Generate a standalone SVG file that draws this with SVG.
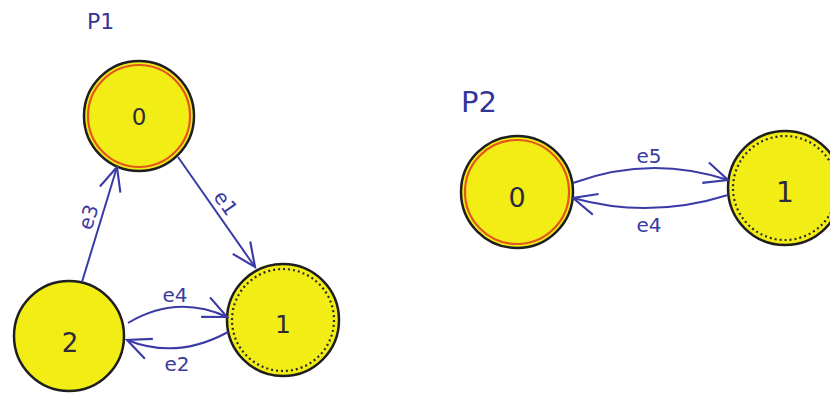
<svg xmlns="http://www.w3.org/2000/svg" width="830" height="393" viewBox="0 0 830 393">
  <style>
    .state { fill: #f3ed16; stroke: #1e1e1e; stroke-width: 2.5; }
    .initial { fill: none; stroke: #e4571c; stroke-width: 2.2; }
    .marked { fill: none; stroke: #2a2a2a; stroke-width: 2.2; stroke-dasharray: 2 3; }
    .edge { fill: none; stroke: #3b3ba8; stroke-width: 2; marker-end: url(#arrow); }
    .nlabel { font-family: "DejaVu Sans", sans-serif; fill: #2d2a3c; text-anchor: middle; }
    .elabel { font-family: "DejaVu Sans", sans-serif; font-size: 20px; fill: #3a3aa0; text-anchor: middle; }
    .title { font-family: "DejaVu Sans", sans-serif; fill: #34349a; }
  </style>
  <defs>
    <marker id="arrow" markerUnits="userSpaceOnUse" markerWidth="30" markerHeight="30" viewBox="-2 -12 28 24" refX="22" refY="0" orient="auto">
      <path d="M0,-10 L22,0 L0,10" fill="none" stroke="#3b3ba8" stroke-width="2"/>
    </marker>
  </defs>
  <rect width="830" height="393" fill="#ffffff"/>

  <!-- automaton P1 -->
  <text class="title" x="87" y="29" font-size="22">P1</text>

  <g id="p1-s0">
    <circle class="state" cx="139" cy="116" r="55"/>
    <circle class="initial" cx="139" cy="116" r="51"/>
    <text class="nlabel" x="139" y="125" font-size="23">0</text>
  </g>
  <g id="p1-s1">
    <circle class="state" cx="283" cy="320" r="56"/>
    <circle class="marked" cx="283" cy="320" r="51"/>
    <text class="nlabel" x="283" y="333" font-size="25">1</text>
  </g>
  <g id="p1-s2">
    <circle class="state" cx="69" cy="336" r="55"/>
    <text class="nlabel" x="70" y="352" font-size="26">2</text>
  </g>

  <!-- automaton P2 -->
  <text class="title" x="461" y="112" font-size="29">P2</text>

  <g id="p2-s0">
    <circle class="state" cx="517" cy="192" r="56"/>
    <circle class="initial" cx="517" cy="192" r="52"/>
    <text class="nlabel" x="517" y="207" font-size="27">0</text>
  </g>
  <g id="p2-s1">
    <circle class="state" cx="785" cy="188" r="57"/>
    <circle class="marked" cx="785" cy="188" r="52"/>
    <text class="nlabel" x="785" y="202" font-size="28">1</text>
  </g>

  <!-- transitions -->
  <g id="edges">
    <path class="edge" d="M178,157 L255,267"/>
    <text class="elabel" transform="translate(220,207) rotate(55)">e1</text>

    <path class="edge" d="M82,282 L117,167"/>
    <text class="elabel" transform="translate(95,219) rotate(-73)">e3</text>

    <path class="edge" d="M128,323 Q177,294 227,317"/>
    <text class="elabel" x="175" y="302">e4</text>

    <path class="edge" d="M228,332 Q177,360 127,340"/>
    <text class="elabel" x="177" y="371">e2</text>

    <path class="edge" d="M573,183 Q650,154.5 728,180"/>
    <text class="elabel" x="649" y="163">e5</text>

    <path class="edge" d="M728,195 Q650,219.5 573,198"/>
    <text class="elabel" x="649" y="232">e4</text>
  </g>
</svg>
